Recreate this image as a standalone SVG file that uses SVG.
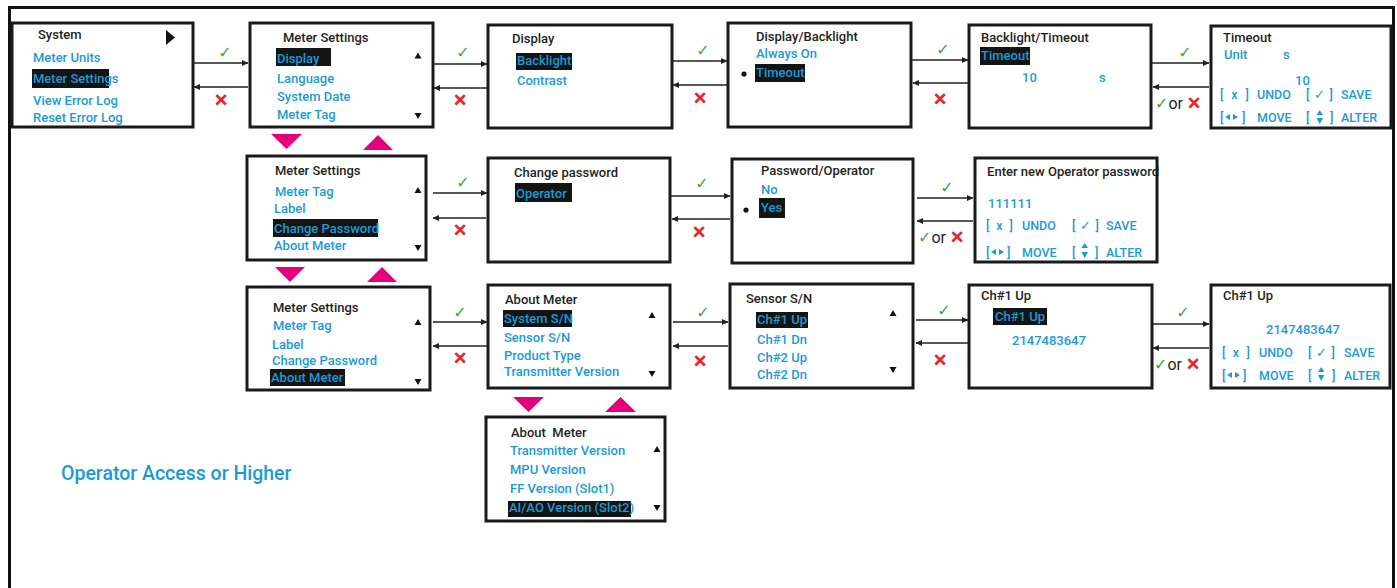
<svg xmlns="http://www.w3.org/2000/svg" width="1397" height="588" viewBox="0 0 1397 588">
<style>
.frame{fill:none;stroke:#111;stroke-width:3}
.box{fill:#fff;stroke:#1a1a1a;stroke-width:3}
.t{font-family:Roboto,"Liberation Sans",Arial,sans-serif;font-size:13px;font-weight:500}
.k{fill:#231f20}
.b{fill:#1c9ad6}
.sm{font-size:12.5px}
.hl{fill:#141414}
.sc{fill:#111}
.bt{fill:#1c9ad6}
.conn line{stroke:#222;stroke-width:1.4}
.pink{fill:#e4007c}
.ok{font-family:"DejaVu Sans",sans-serif;font-size:16px;fill:#3aaa35;text-anchor:middle}
.no{font-family:"DejaVu Sans",sans-serif;font-size:17px;fill:#e3262b;stroke:#e3262b;stroke-width:0.9;text-anchor:middle}
.or{font-family:Roboto,"Liberation Sans",Arial,sans-serif;font-size:16px;fill:#231f20}
.okc{font-family:"DejaVu Sans",sans-serif;font-size:16px;fill:#3aaa35}
.noc{font-family:"DejaVu Sans",sans-serif;font-size:17px;fill:#e3262b;stroke:#e3262b;stroke-width:0.9}
.big{font-family:Roboto,"Liberation Sans",Arial,sans-serif;font-size:19.5px;font-weight:500;fill:#1c9ad6}
</style>
<defs>
<marker id="ah" markerWidth="7" markerHeight="7" refX="6" refY="3.5" orient="auto" markerUnits="userSpaceOnUse">
<path d="M0,0.5 L6.5,3.5 L0,6.5 z" fill="#222"/>
</marker>
</defs>
<rect width="1397" height="588" fill="#fff"/>
<path class="frame" d="M9.5,592 V7.5 H1393.5 V592"/>

<g id="system">
<rect class="box" x="12" y="23" width="181" height="104"/>
<text class="t k" x="38" y="39">System</text>
<polygon points="166,30 175,37.5 166,45" fill="#111"/>
<text class="t b" x="33" y="62">Meter Units</text>
<rect class="hl" x="32" y="69" width="77" height="19"/>
<text class="t b" x="33" y="83">Meter Settings</text>
<text class="t b" x="33" y="105">View Error Log</text>
<text class="t b" x="33" y="122">Reset Error Log</text>
</g>

<g id="meter-settings-1">
<rect class="box" x="250" y="23" width="183" height="104"/>
<text class="t k" x="283" y="42">Meter Settings</text>
<rect class="hl" x="276" y="48" width="55" height="18"/>
<text class="t b" x="277" y="63">Display</text>
<text class="t b" x="277" y="83">Language</text>
<text class="t b" x="277" y="101">System Date</text>
<text class="t b" x="277" y="119">Meter Tag</text>
<polygon class="sc" points="414.5,58.5 421.5,58.5 418,52.5"/>
<polygon class="sc" points="414.5,113 421.5,113 418,119"/>
</g>

<g id="display">
<rect class="box" x="488" y="25" width="184" height="103"/>
<text class="t k" x="512" y="43">Display</text>
<rect class="hl" x="516" y="53" width="56" height="17"/>
<text class="t b" x="517" y="65">Backlight</text>
<text class="t b" x="517" y="85">Contrast</text>
</g>

<g id="display-backlight">
<rect class="box" x="728" y="23" width="183" height="104"/>
<text class="t k" x="756" y="41">Display/Backlight</text>
<text class="t b" x="756" y="58">Always On</text>
<circle cx="744" cy="74" r="2.6" fill="#111"/>
<rect class="hl" x="755" y="64" width="50" height="18"/>
<text class="t b" x="756" y="77">Timeout</text>
</g>

<g id="backlight-timeout">
<rect class="box" x="969" y="25" width="182" height="103"/>
<text class="t k" x="981" y="42">Backlight/Timeout</text>
<rect class="hl" x="980" y="47" width="50" height="18"/>
<text class="t b" x="981" y="60">Timeout</text>
<text class="t b" x="1022" y="82">10</text>
<text class="t b" x="1099" y="82">s</text>
</g>

<g id="timeout">
<rect class="box" x="1211" y="26" width="180" height="102"/>
<text class="t k" x="1223" y="42">Timeout</text>
<text class="t b" x="1224" y="59">Unit</text>
<text class="t b" x="1283" y="59">s</text>
<text class="t b" x="1295" y="85">10</text>
<text class="t sm b" x="1220" y="99" textLength="29" lengthAdjust="spacing" xml:space="preserve">[ x ]</text>
<text class="t sm b" x="1257" y="99">UNDO</text>
<text class="t sm b" x="1306" y="99" textLength="27" lengthAdjust="spacing" xml:space="preserve">[ ✓ ]</text>
<text class="t sm b" x="1341" y="99">SAVE</text>
<text class="t sm b" x="1220" y="122">[</text>
<polygon class="bt" points="1230,114 1230,120 1225,117"/>
<polygon class="bt" points="1233,114 1233,120 1238,117"/>
<text class="t sm b" x="1242" y="122">]</text>
<text class="t sm b" x="1257" y="122">MOVE</text>
<text class="t sm b" x="1306" y="122">[</text>
<polygon class="bt" points="1316.5,115 1323,115 1319.75,110"/>
<polygon class="bt" points="1316.5,118 1323,118 1319.75,124"/>
<text class="t sm b" x="1330" y="122">]</text>
<text class="t sm b" x="1341" y="122">ALTER</text>
</g>

<g id="meter-settings-2">
<rect class="box" x="247" y="156" width="179" height="104"/>
<text class="t k" x="275" y="175">Meter Settings</text>
<text class="t b" x="275" y="196">Meter Tag</text>
<text class="t b" x="274" y="213">Label</text>
<rect class="hl" x="273" y="219" width="105" height="18"/>
<text class="t b" x="274" y="233">Change Password</text>
<text class="t b" x="274" y="250">About Meter</text>
<polygon class="sc" points="414.5,193 421.5,193 418,187"/>
<polygon class="sc" points="414.5,245 421.5,245 418,251"/>
</g>

<g id="change-password">
<rect class="box" x="488" y="158" width="182" height="104"/>
<text class="t k" x="514" y="177">Change password</text>
<rect class="hl" x="515" y="183" width="57" height="19"/>
<text class="t b" x="516" y="198">Operator</text>
</g>

<g id="password-operator">
<rect class="box" x="732" y="159" width="181" height="104"/>
<text class="t k" x="761" y="175">Password/Operator</text>
<text class="t b" x="761" y="194">No</text>
<circle cx="746" cy="210" r="2.6" fill="#111"/>
<rect class="hl" x="759" y="198" width="26" height="20"/>
<text class="t b" x="761" y="212">Yes</text>
</g>

<g id="enter-password">
<text class="t k" x="987" y="176" textLength="172" lengthAdjust="spacingAndGlyphs">Enter new Operator password</text>
<rect class="box" x="975" y="158" width="182" height="104" style="fill:none"/>
<text class="t b" x="988" y="208">111111</text>
<text class="t sm b" x="986" y="230" textLength="27" lengthAdjust="spacing" xml:space="preserve">[ x ]</text>
<text class="t sm b" x="1022" y="230">UNDO</text>
<text class="t sm b" x="1072" y="230" textLength="27" lengthAdjust="spacing" xml:space="preserve">[ ✓ ]</text>
<text class="t sm b" x="1106" y="230">SAVE</text>
<text class="t sm b" x="986" y="257">[</text>
<polygon class="bt" points="996,249 996,255 991,252"/>
<polygon class="bt" points="999,249 999,255 1004,252"/>
<text class="t sm b" x="1007" y="257">]</text>
<text class="t sm b" x="1022" y="257">MOVE</text>
<text class="t sm b" x="1072" y="257">[</text>
<polygon class="bt" points="1081.5,248 1088,248 1084.75,243"/>
<polygon class="bt" points="1081.5,252 1088,252 1084.75,258"/>
<text class="t sm b" x="1095" y="257">]</text>
<text class="t sm b" x="1106" y="257">ALTER</text>
</g>

<g id="meter-settings-3">
<rect class="box" x="247" y="287" width="183" height="103"/>
<text class="t k" x="273" y="312">Meter Settings</text>
<text class="t b" x="273" y="330">Meter Tag</text>
<text class="t b" x="272" y="349">Label</text>
<text class="t b" x="272" y="365">Change Password</text>
<rect class="hl" x="270" y="369" width="75" height="17"/>
<text class="t b" x="271" y="382">About Meter</text>
<polygon class="sc" points="414.5,325 421.5,325 418,319"/>
<polygon class="sc" points="414.5,379 421.5,379 418,385"/>
</g>

<g id="about-meter">
<rect class="box" x="488" y="285" width="182" height="103"/>
<text class="t k" x="505" y="304">About Meter</text>
<rect class="hl" x="503" y="310" width="69" height="17"/>
<text class="t b" x="504" y="323">System S/N</text>
<text class="t b" x="504" y="342">Sensor S/N</text>
<text class="t b" x="504" y="360">Product Type</text>
<text class="t b" x="504" y="376">Transmitter Version</text>
<polygon class="sc" points="648.5,318 655.5,318 652,312"/>
<polygon class="sc" points="648.5,371 655.5,371 652,377"/>
</g>

<g id="sensor-sn">
<rect class="box" x="730" y="284" width="183" height="104"/>
<text class="t k" x="746" y="303">Sensor S/N</text>
<rect class="hl" x="756" y="312" width="52" height="16"/>
<text class="t b" x="757" y="324">Ch#1 Up</text>
<text class="t b" x="757" y="344">Ch#1 Dn</text>
<text class="t b" x="757" y="362">Ch#2 Up</text>
<text class="t b" x="757" y="379">Ch#2 Dn</text>
<polygon class="sc" points="889.5,316 896.5,316 893,310"/>
<polygon class="sc" points="889.5,367 896.5,367 893,373"/>
</g>

<g id="ch1-up">
<rect class="box" x="969" y="285" width="183" height="103"/>
<text class="t k" x="981" y="300">Ch#1 Up</text>
<rect class="hl" x="993" y="308" width="54" height="17"/>
<text class="t b" x="995" y="321">Ch#1 Up</text>
<text class="t b" x="1012" y="345">2147483647</text>
</g>

<g id="ch1-up-edit">
<rect class="box" x="1211" y="285" width="179" height="103"/>
<text class="t k" x="1223" y="300">Ch#1 Up</text>
<text class="t b" x="1266" y="334">2147483647</text>
<text class="t sm b" x="1222" y="357" textLength="28" lengthAdjust="spacing" xml:space="preserve">[ x ]</text>
<text class="t sm b" x="1259" y="357">UNDO</text>
<text class="t sm b" x="1308" y="357" textLength="27" lengthAdjust="spacing" xml:space="preserve">[ ✓ ]</text>
<text class="t sm b" x="1344" y="357">SAVE</text>
<text class="t sm b" x="1222" y="380">[</text>
<polygon class="bt" points="1232,372 1232,378 1227,375"/>
<polygon class="bt" points="1235,372 1235,378 1240,375"/>
<text class="t sm b" x="1243" y="380">]</text>
<text class="t sm b" x="1259" y="380">MOVE</text>
<text class="t sm b" x="1308" y="380">[</text>
<polygon class="bt" points="1318,372 1324.5,372 1321.25,367"/>
<polygon class="bt" points="1318,375 1324.5,375 1321.25,381"/>
<text class="t sm b" x="1332" y="380">]</text>
<text class="t sm b" x="1344" y="380">ALTER</text>
</g>

<g id="about-meter-2">
<rect class="box" x="486" y="417" width="179" height="104"/>
<text class="t k" x="511" y="437" xml:space="preserve">About  Meter</text>
<text class="t b" x="510" y="455">Transmitter Version</text>
<text class="t b" x="510" y="474">MPU Version</text>
<text class="t b" x="510" y="493">FF Version (Slot1)</text>
<rect class="hl" x="508" y="501" width="123" height="16"/>
<text class="t b" x="509" y="512">AI/AO Version (Slot2)</text>
<polygon class="sc" points="653.5,452 660.5,452 657,446"/>
<polygon class="sc" points="653.5,505 660.5,505 657,511"/>
</g>

<text id="access-note" class="big" x="61" y="480">Operator Access or Higher</text>

<g id="connectors" class="conn">
<line x1="193" y1="63" x2="248" y2="63" marker-end="url(#ah)"/>
<line x1="248" y1="87" x2="194" y2="87" marker-end="url(#ah)"/>
<line x1="434" y1="64" x2="487" y2="64" marker-end="url(#ah)"/>
<line x1="487" y1="88" x2="434" y2="88" marker-end="url(#ah)"/>
<line x1="673" y1="61" x2="727" y2="61" marker-end="url(#ah)"/>
<line x1="727" y1="85" x2="673" y2="85" marker-end="url(#ah)"/>
<line x1="912" y1="60" x2="968" y2="60" marker-end="url(#ah)"/>
<line x1="968" y1="83" x2="913" y2="83" marker-end="url(#ah)"/>
<line x1="1152" y1="63" x2="1209" y2="63" marker-end="url(#ah)"/>
<line x1="1209" y1="87" x2="1153" y2="87" marker-end="url(#ah)"/>

<line x1="433" y1="193" x2="487" y2="193" marker-end="url(#ah)"/>
<line x1="486" y1="218" x2="433" y2="218" marker-end="url(#ah)"/>
<line x1="671" y1="196" x2="730" y2="196" marker-end="url(#ah)"/>
<line x1="730" y1="219" x2="672" y2="219" marker-end="url(#ah)"/>
<line x1="917" y1="198" x2="973" y2="198" marker-end="url(#ah)"/>
<line x1="973" y1="221" x2="917" y2="221" marker-end="url(#ah)"/>

<line x1="433" y1="322" x2="487" y2="322" marker-end="url(#ah)"/>
<line x1="487" y1="346" x2="433" y2="346" marker-end="url(#ah)"/>
<line x1="673" y1="322" x2="728" y2="322" marker-end="url(#ah)"/>
<line x1="728" y1="346" x2="673" y2="346" marker-end="url(#ah)"/>
<line x1="916" y1="320" x2="968" y2="320" marker-end="url(#ah)"/>
<line x1="968" y1="343" x2="916" y2="343" marker-end="url(#ah)"/>
<line x1="1153" y1="324" x2="1209" y2="324" marker-end="url(#ah)"/>
<line x1="1209" y1="348" x2="1153" y2="348" marker-end="url(#ah)"/>

<polygon class="pink" points="271,134 302,134 286.5,149"/>
<polygon class="pink" points="363,150 393,150 378,135"/>
<polygon class="pink" points="275,267 305,267 290,282"/>
<polygon class="pink" points="367,282 397,282 382,267"/>
<polygon class="pink" points="513,397 544,397 528.5,412"/>
<polygon class="pink" points="605,412 636,412 620.5,397"/>

<text class="ok" x="225" y="58">✓</text>
<text class="no" x="221" y="106">✕</text>
<text class="ok" x="463" y="58">✓</text>
<text class="no" x="460" y="106">✕</text>
<text class="ok" x="703" y="56">✓</text>
<text class="no" x="700" y="104">✕</text>
<text class="ok" x="943" y="55">✓</text>
<text class="no" x="940" y="105">✕</text>
<text class="ok" x="1185" y="58">✓</text>
<text x="1155" y="109"><tspan class="okc">✓</tspan><tspan class="or">or </tspan><tspan class="noc">✕</tspan></text>

<text class="ok" x="463" y="188">✓</text>
<text class="no" x="460" y="236">✕</text>
<text class="ok" x="702" y="189">✓</text>
<text class="no" x="699" y="238">✕</text>
<text class="ok" x="947" y="193">✓</text>
<text x="918" y="243"><tspan class="okc">✓</tspan><tspan class="or">or </tspan><tspan class="noc">✕</tspan></text>

<text class="ok" x="460" y="318">✓</text>
<text class="no" x="460" y="364">✕</text>
<text class="ok" x="703" y="318">✓</text>
<text class="no" x="700" y="367">✕</text>
<text class="ok" x="944" y="316">✓</text>
<text class="no" x="940" y="366">✕</text>
<text class="ok" x="1183" y="318">✓</text>
<text x="1154" y="370"><tspan class="okc">✓</tspan><tspan class="or">or </tspan><tspan class="noc">✕</tspan></text>
</g>
</svg>
